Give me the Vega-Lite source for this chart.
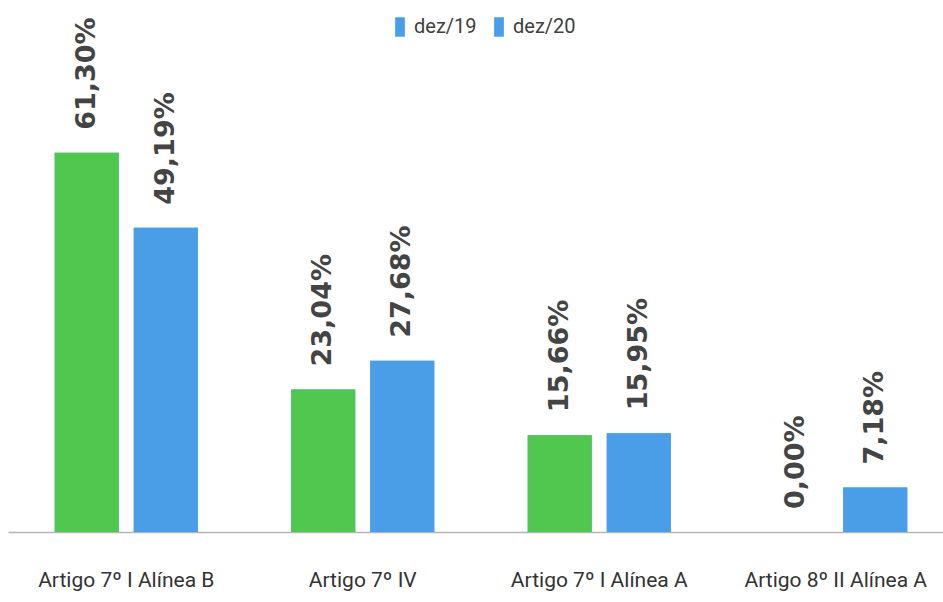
{
  "$schema": "https://vega.github.io/schema/vega-lite/v6.json",
  "autosize": "none",
  "width": 946,
  "height": 433,
  "padding": {"left": 8, "top": 99, "right": -11, "bottom": 70},
  "background": "white",
  "data": {
    "values": [
      {"artigo": "Artigo 7º I Alínea B", "serie": "dez/19", "valor": 61.30, "rotulo": "61,30%"},
      {"artigo": "Artigo 7º I Alínea B", "serie": "dez/20", "valor": 49.19, "rotulo": "49,19%"},
      {"artigo": "Artigo 7º IV", "serie": "dez/19", "valor": 23.04, "rotulo": "23,04%"},
      {"artigo": "Artigo 7º IV", "serie": "dez/20", "valor": 27.68, "rotulo": "27,68%"},
      {"artigo": "Artigo 7º I Alínea A", "serie": "dez/19", "valor": 15.66, "rotulo": "15,66%"},
      {"artigo": "Artigo 7º I Alínea A", "serie": "dez/20", "valor": 15.95, "rotulo": "15,95%"},
      {"artigo": "Artigo 8º II Alínea A", "serie": "dez/19", "valor": 0.00, "rotulo": "0,00%"},
      {"artigo": "Artigo 8º II Alínea A", "serie": "dez/20", "valor": 7.18, "rotulo": "7,18%"}
    ]
  },
  "encoding": {
    "x": {
      "field": "artigo", "type": "nominal", "sort": null,
      "scale": {"paddingInner": 0.395, "paddingOuter": 0.1975},
      "axis": {
        "title": null, "labelAngle": 0, "ticks": false, "domain": true,
        "domainColor": "#b5b5b5", "domainWidth": 1.5,
        "labelFont": "Roboto", "labelFontSize": 21, "labelLimit": 400,
        "labelColor": "#333333", "labelPadding": 37
      }
    },
    "xOffset": {"field": "serie", "type": "nominal", "scale": {"paddingInner": 0.19, "paddingOuter": 0}},
    "y": {"field": "valor", "type": "quantitative", "scale": {"domain": [0, 70], "nice": false}, "axis": null}
  },
  "layer": [
    {
      "mark": {"type": "bar"},
      "encoding": {
        "color": {
          "field": "serie", "type": "nominal",
          "scale": {"domain": ["dez/19", "dez/20"], "range": ["#4A9EE8", "#4A9EE8"]},
          "legend": {
            "title": null, "orient": "none", "direction": "horizontal",
            "legendX": 382, "legendY": -82,
            "symbolType": "M-0.5,-1H0.5V1H-0.5Z", "symbolSize": 380,
            "symbolStrokeWidth": 0,
            "labelFont": "Roboto", "labelFontSize": 20,
            "labelColor": "#404040", "labelOffset": 4, "columnPadding": 12
          }
        }
      }
    },
    {
      "mark": {"type": "bar"},
      "encoding": {
        "fill": {
          "field": "serie", "type": "nominal",
          "scale": {"domain": ["dez/19", "dez/20"], "range": ["#50C850", "#4A9EE8"]},
          "legend": null
        }
      }
    },
    {
      "mark": {
        "type": "text", "angle": 270, "align": "left", "baseline": "middle",
        "dx": 23, "font": "DejaVu Sans", "fontWeight": "bold", "fontSize": 27, "color": "#444444"
      },
      "encoding": {"text": {"field": "rotulo"}}
    }
  ],
  "config": {"view": {"stroke": null}}
}
